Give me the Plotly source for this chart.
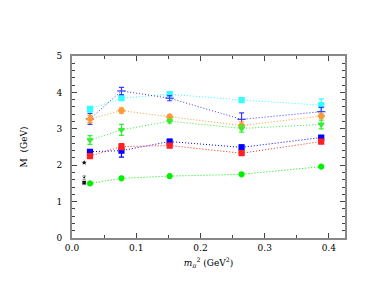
import plotly.graph_objects as go

x5 = [0.028, 0.077, 0.152, 0.264, 0.388]

cyan_y = [3.54, 3.84, 3.95, 3.79, 3.65]
cyan_e = [0.08, 0.06, 0.05, 0.04, 0.17]

dblue_y = [3.27, 4.04, 3.84, 3.26, 3.47]
dblue_e = [0.15, 0.10, 0.07, 0.18, 0.12]

orange_y = [3.27, 3.50, 3.33, 3.09, 3.35]
orange_e = [0.10, 0.07, 0.05, 0.10, 0.06]

gtri_y = [2.69, 2.97, 3.21, 3.01, 3.12]
gtri_e = [0.12, 0.15, 0.05, 0.10, 0.12]

blue_y = [2.37, 2.40, 2.65, 2.49, 2.76]
blue_e = [0.06, 0.18, 0.06, 0.06, 0.05]

red_y = [2.25, 2.51, 2.54, 2.33, 2.65]
red_e = [0.05, 0.08, 0.04, 0.05, 0.04]

gcirc_y = [1.50, 1.64, 1.70, 1.75, 1.96]
gcirc_e = [0.02, 0.02, 0.02, 0.02, 0.02]

black_x = [0.019, 0.019, 0.019]
black_y = [1.52, 1.66, 2.07]
black_sym = ["square", "triangle-up", "star"]

series = [
    ("cyan", cyan_y, cyan_e, "#33ffff", "square"),
    ("dblue", dblue_y, dblue_e, "#3a3aff", "line-ew"),
    ("orange", orange_y, orange_e, "#ff9933", "diamond"),
    ("gtri", gtri_y, gtri_e, "#33ee33", "triangle-down"),
    ("blue", blue_y, blue_e, "#0000ff", "square"),
    ("red", red_y, red_e, "#ff2020", "square"),
    ("gcirc", gcirc_y, gcirc_e, "#00ee00", "circle"),
]

fig = go.Figure()
for name, ys, es, col, sym in series:
    fig.add_trace(go.Scatter(
        x=x5, y=ys, mode="lines+markers", name=name,
        line=dict(color=col, width=1, dash="1px,2px"),
        marker=dict(color=col, symbol=sym, size=5 if sym != "line-ew" else 6,
                    line=dict(color=col, width=1.2)),
        error_y=dict(type="data", array=es, color=col, thickness=1.2, width=2.5),
    ))

fig.add_trace(go.Scatter(
    x=black_x, y=black_y, mode="markers",
    marker=dict(color="black", symbol=black_sym, size=[5, 4, 6]),
    error_y=dict(type="data", array=[0.03, 0.04, 0.02], color="black", thickness=1, width=1.5),
))

axis_common = dict(
    showgrid=False, zeroline=False, showline=True, linecolor="#888888", linewidth=2,
    mirror="ticks", ticks="inside", tickcolor="#444444", ticklen=5, tickwidth=1,
    automargin=False,
    tickfont=dict(family="DejaVu Serif", size=9, color="black"),
)

fig.update_layout(
    template="none",
    width=382, height=295,
    margin=dict(l=64, r=45, t=48, b=65),
    paper_bgcolor="white", plot_bgcolor="white",
    showlegend=False,
    xaxis=dict(range=[0, 0.425], dtick=0.1, tickformat=".1f",
               minor=dict(ticks="inside", dtick=0.05, ticklen=3, tickcolor="#444444"),
               title=dict(text="<i>m</i><sub><i>π</i></sub><sup>2</sup> (GeV<sup>2</sup>)",
                          font=dict(family="DejaVu Serif", size=9, color="black"), standoff=8),
               **axis_common),
    yaxis=dict(range=[0, 5], dtick=1, ticklabelstandoff=6,
               minor=dict(ticks="inside", dtick=0.2, ticklen=3, tickcolor="#444444"),
               title=dict(text="M  (GeV)", font=dict(family="DejaVu Serif", size=9, color="black"),
                          standoff=27),
               **axis_common),
)

fig.write_html("out.html")
